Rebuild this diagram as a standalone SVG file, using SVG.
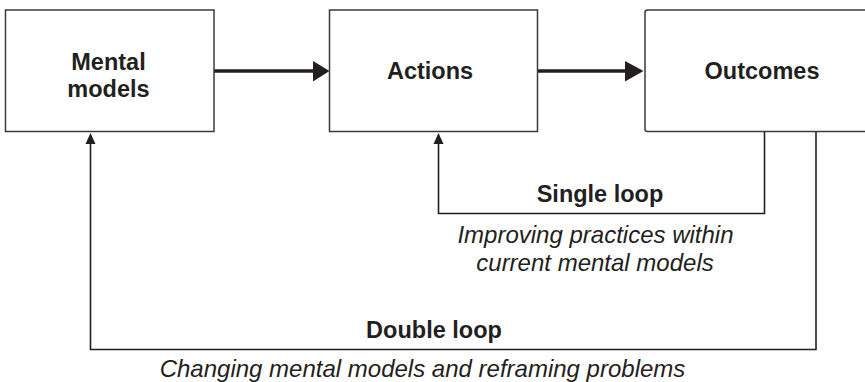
<svg xmlns="http://www.w3.org/2000/svg" width="865" height="382" viewBox="0 0 865 382">
<style>
.box{fill:#fff;stroke:#3a3a3a;stroke-width:1.5}
.lbl{font-family:"Liberation Sans",Arial,sans-serif;font-weight:bold;font-size:23.5px;fill:#231f20;text-anchor:middle}
.it{font-family:"Liberation Sans",Arial,sans-serif;font-style:italic;font-size:24px;fill:#231f20;text-anchor:middle}
.thick{stroke:#231f20;stroke-width:3.5;fill:none}
.thin{stroke:#231f20;stroke-width:1.6;fill:none}
.head{fill:#231f20}
</style>
<rect width="865" height="382" fill="#fff"/>
<g id="connectors">
<line class="thick" x1="214" y1="71" x2="314" y2="71"/>
<polygon class="head" points="313,61 329.5,71 313,81.5"/>
<line class="thick" x1="537" y1="71" x2="626" y2="71"/>
<polygon class="head" points="625,61 643.5,71 625,81.5"/>
<polyline class="thin" points="764.5,132 764.5,213.5 438.5,213.5 438.5,142"/>
<polygon class="head" points="433.5,144 438.5,133 443.5,144"/>
<polyline class="thin" points="816,132 816,349.5 90.5,349.5 90.5,142"/>
<polygon class="head" points="85.5,144 90.5,133 95.5,144"/>
</g>
<g id="mental-models">
<rect class="box" x="5.5" y="10" width="208.5" height="121.5"/>
<text class="lbl" x="108.5" y="69.5">Mental</text>
<text class="lbl" x="108.5" y="96.5">models</text>
</g>
<g id="actions">
<rect class="box" x="329.5" y="10" width="208" height="121.5"/>
<text class="lbl" x="430" y="79">Actions</text>
</g>
<g id="outcomes">
<rect class="box" x="645" y="10" width="240" height="121.5" rx="2.5"/>
<text class="lbl" x="762" y="79">Outcomes</text>
</g>
<g id="single-loop">
<text class="lbl" x="600" y="201.5">Single loop</text>
<text class="it" x="595.5" y="243">Improving practices within</text>
<text class="it" x="595" y="270.5">current mental models</text>
</g>
<g id="double-loop">
<text class="lbl" x="434" y="337.5">Double loop</text>
<text class="it" x="422.5" y="376.5">Changing mental models and reframing problems</text>
</g>
</svg>
